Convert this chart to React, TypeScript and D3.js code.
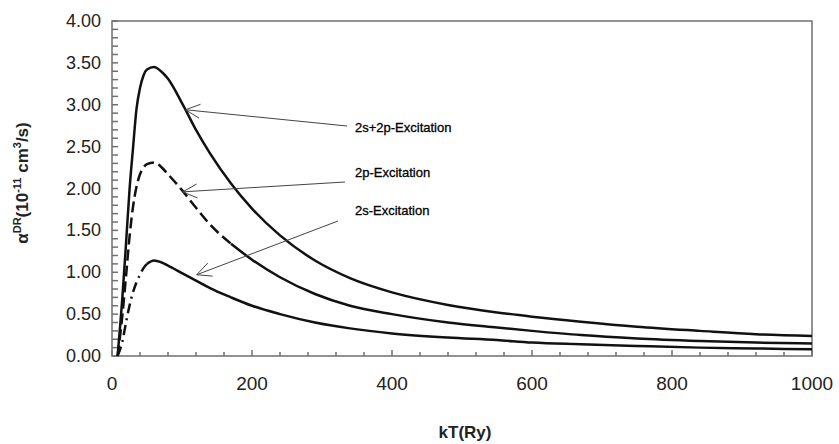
import React, { useEffect, useRef } from 'react';
import * as d3 from 'd3';

// kT grid (Ry) shared by the three series
const kT = [8, 15, 20, 25, 30, 35, 40, 45, 50, 60, 70, 80, 100, 120, 140, 170, 200, 240, 290, 340, 400, 480, 550, 600, 670, 750, 840, 920, 1000];

// alpha^DR in 1e-11 cm^3/s
const exc2s2p = [0, 0.72, 1.34, 1.98, 2.48, 2.95, 3.2, 3.35, 3.42, 3.45, 3.4, 3.31, 3.02, 2.7, 2.42, 2.06, 1.76, 1.44, 1.14, 0.93, 0.76, 0.61, 0.52, 0.47, 0.41, 0.35, 0.3, 0.26, 0.24];
const exc2p = [0, 0.5, 0.95, 1.42, 1.78, 2.02, 2.17, 2.25, 2.29, 2.31, 2.26, 2.17, 1.98, 1.77, 1.57, 1.34, 1.15, 0.94, 0.74, 0.6, 0.5, 0.4, 0.34, 0.3, 0.25, 0.21, 0.18, 0.16, 0.15];
const exc2s = [0, 0.18, 0.4, 0.6, 0.76, 0.88, 0.97, 1.05, 1.1, 1.14, 1.12, 1.08, 0.99, 0.9, 0.81, 0.7, 0.6, 0.5, 0.4, 0.33, 0.27, 0.22, 0.19, 0.16, 0.14, 0.12, 0.1, 0.09, 0.08];

const xTicks = [0, 200, 400, 600, 800, 1000];
const yTicks = [0, 0.5, 1, 1.5, 2, 2.5, 3, 3.5, 4];

const labels = ['2s+2p-Excitation', '2p-Excitation', '2s-Excitation'];
// where each label's arrow points (kT, value)
const arrowTargets = [[105, 2.94], [101, 1.96], [121, 0.97]];

const W = 839, H = 444;
const m = { left: 112, right: 27, top: 21, bottom: 88 };

const App = () => {
  const svgRef = useRef(null);

  useEffect(() => {
    const svg = d3.select(svgRef.current);
    svg.selectAll('*').remove();

    const x = d3.scaleLinear().domain([0, 1000]).range([m.left, W - m.right]);
    const y = d3.scaleLinear().domain([0, 4]).range([H - m.bottom, m.top]);
    const axisColor = '#707070';

    // frame
    svg.append('rect')
      .attr('x', x(0)).attr('y', y(4))
      .attr('width', x(1000) - x(0)).attr('height', y(0) - y(4))
      .attr('fill', 'none').attr('stroke', axisColor).attr('stroke-width', 1.5);

    // y ticks, inward, every 0.1
    const yMinor = d3.range(0, 41).map((i) => i / 10);
    svg.append('g').selectAll('line').data(yMinor).enter().append('line')
      .attr('x1', x(0)).attr('x2', x(0) + 6)
      .attr('y1', (d) => y(d)).attr('y2', (d) => y(d))
      .attr('stroke', axisColor).attr('stroke-width', 1.5);

    // x ticks, inward, every 40; longer at 200s
    const xMinor = d3.range(0, 26).map((i) => i * 40);
    svg.append('g').selectAll('line').data(xMinor).enter().append('line')
      .attr('x1', (d) => x(d)).attr('x2', (d) => x(d))
      .attr('y1', y(0)).attr('y2', (d) => y(0) - (d % 200 === 0 ? 6 : 4))
      .attr('stroke', axisColor).attr('stroke-width', 1.5);

    svg.append('g').selectAll('text').data(yTicks).enter().append('text')
      .attr('x', 101).attr('y', (d) => y(d) + 6)
      .attr('text-anchor', 'end')
      .style('font-family', 'Liberation Sans, Arial, sans-serif')
      .style('font-size', '18px').attr('fill', '#222')
      .text((d) => d.toFixed(2));

    svg.append('g').selectAll('text').data(xTicks).enter().append('text')
      .attr('x', (d) => x(d)).attr('y', 390)
      .attr('text-anchor', 'middle')
      .style('font-family', 'Liberation Sans, Arial, sans-serif')
      .style('font-size', '19px').attr('fill', '#222')
      .text((d) => d);

    svg.append('text')
      .attr('x', 465).attr('y', 438).attr('text-anchor', 'middle')
      .style('font-family', 'Liberation Sans, Arial, sans-serif')
      .style('font-size', '17px').style('font-weight', 'bold').attr('fill', '#222')
      .text('kT(Ry)');

    const yl = svg.append('text')
      .attr('transform', 'translate(28,183) rotate(-90)')
      .attr('text-anchor', 'middle')
      .style('font-family', 'Liberation Sans, Arial, sans-serif')
      .style('font-size', '17px').style('font-weight', 'bold').attr('fill', '#222');
    yl.append('tspan').text('α');
    yl.append('tspan').attr('dy', -7).style('font-size', '11px').text('DR');
    yl.append('tspan').attr('dy', 7).text('(10');
    yl.append('tspan').attr('dy', -7).style('font-size', '11px').text('-11');
    yl.append('tspan').attr('dy', 7).text(' cm');
    yl.append('tspan').attr('dy', -7).style('font-size', '11px').text('3');
    yl.append('tspan').attr('dy', 7).text('/s)');

    // curves
    const line = d3.line()
      .x((d) => x(d[0]))
      .y((d) => y(d[1]))
      .curve(d3.curveMonotoneX);

    const series = [
      { values: exc2s2p, split: 0, dash: null },
      { values: exc2p, split: 170, dash: '11,5' },
      { values: exc2s, split: 50, dash: '10,5,2,5' },
    ];

    series.forEach((s) => {
      const pts = kT.map((k, i) => [k, s.values[i]]);
      if (s.dash) {
        svg.append('path')
          .attr('d', line(pts.filter((p) => p[0] <= s.split)))
          .attr('fill', 'none').attr('stroke', '#111')
          .attr('stroke-width', 2.5).attr('stroke-dasharray', s.dash);
      }
      svg.append('path')
        .attr('d', line(pts.filter((p) => p[0] >= s.split)))
        .attr('fill', 'none').attr('stroke', '#111').attr('stroke-width', 2.5);
    });

    // annotations
    const tails = [[347, 126], [345, 182], [338, 221]];
    const textY = [132, 177, 215];
    labels.forEach((lab, i) => {
      const tx = x(arrowTargets[i][0]);
      const ty = y(arrowTargets[i][1]);
      const [sx, sy] = tails[i];
      svg.append('line')
        .attr('x1', sx).attr('y1', sy).attr('x2', tx).attr('y2', ty)
        .attr('stroke', '#444').attr('stroke-width', 1);
      const ang = Math.atan2(sy - ty, sx - tx);
      [-0.45, 0.45].forEach((da) => {
        svg.append('line')
          .attr('x1', tx).attr('y1', ty)
          .attr('x2', tx + 16 * Math.cos(ang + da))
          .attr('y2', ty + 16 * Math.sin(ang + da))
          .attr('stroke', '#444').attr('stroke-width', 1);
      });
      svg.append('text')
        .attr('x', 355).attr('y', textY[i])
        .style('font-family', 'Liberation Sans, Arial, sans-serif')
        .style('font-size', '13px').attr('fill', '#000')
        .style('stroke', '#000').style('stroke-width', 0.3)
        .text(lab);
    });
  }, []);

  return (
    <svg ref={svgRef} width={W} height={H}
      style={{ position: 'absolute', left: 0, top: 0, background: '#fff' }} />
  );
};

export default App;
